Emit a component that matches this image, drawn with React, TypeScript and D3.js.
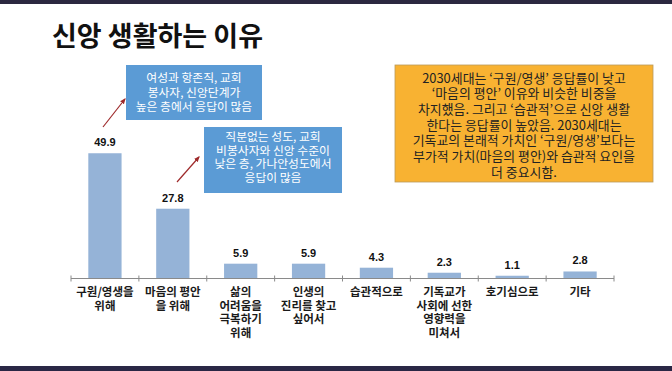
import React from 'react';
import * as d3 from 'd3';

// 신앙 생활하는 이유 (%)
const categories = [
  ['구원/영생을', '위해'],
  ['마음의 평안', '을 위해'],
  ['삶의', '어려움을', '극복하기', '위해'],
  ['인생의', '진리를 찾고', '싶어서'],
  ['습관적으로'],
  ['기독교가', '사회에 선한', '영향력을', '미쳐서'],
  ['호기심으로'],
  ['기타'],
];
const values = [49.9, 27.8, 5.9, 5.9, 4.3, 2.3, 1.1, 2.8];

const title = '신앙 생활하는 이유';
const note1 = ['여성과 항존직, 교회', '봉사자, 신앙단계가', '높은 층에서 응답이 많음'];
const note2 = ['직분없는 성도, 교회', '비봉사자와 신앙 수준이', '낮은 층, 가나안성도에서', '응답이 많음'];
const note3 = [
  '2030세대는 ‘구원/영생’ 응답률이 낮고',
  '‘마음의 평안’ 이유와 비슷한 비중을',
  '차지했음. 그리고 ‘습관적’으로 신앙 생활',
  '한다는 응답률이 높았음. 2030세대는',
  '기독교의 본래적 가치인 ‘구원/영생’보다는',
  '부가적 가치(마음의 평안)와 습관적 요인을',
  '더 중요시함.',
];

const W = 672;
const H = 371;
const kr = '"Noto Sans CJK KR", "Noto Sans", sans-serif';
const barColor = '#95b3d7';
const arrowColor = '#9e2a2b';

export default function App() {
  const x = d3.scaleBand<number>()
    .domain(d3.range(categories.length))
    .range([71, 614])
    .padding(0);
  const y = d3.scaleLinear().domain([0, 50]).range([278.5, 153]);
  const barW = x.bandwidth() * 0.49;
  const bounds = d3.range(categories.length + 1).map(i => 71 + i * x.step());

  return (
    <svg width={W} height={H} style={{ position: 'absolute', left: 0, top: 0, background: '#fff' }}>
      <defs>
        <marker id="ah" viewBox="0 0 10 10" refX="8" refY="5" markerWidth="5" markerHeight="5" orient="auto">
          <path d="M0,1 L10,5 L0,9 z" fill={arrowColor} />
        </marker>
      </defs>
      <rect x={0} y={0} width={W} height={4} fill="#2b2840" />
      <rect x={0} y={366} width={W} height={5} fill="#2a2745" />

      <text x={52} y={46} fontFamily={kr} fontWeight={700} fontSize={27} fill="#111">{title}</text>

      {/* bars */}
      {values.map((v, i) => (
        <g key={i}>
          <rect x={x(i)! + (x.bandwidth() - barW) / 2} y={y(v)} width={barW} height={y(0) - y(v)} fill={barColor} />
          <text x={x(i)! + x.bandwidth() / 2} y={y(v) - 7} textAnchor="middle"
            fontFamily="'Liberation Sans', Arial, sans-serif" fontWeight={700} fontSize={11} fill="#111">
            {v.toFixed(1)}
          </text>
        </g>
      ))}

      {/* axis */}
      <line x1={bounds[0]} x2={bounds[bounds.length - 1]} y1={y(0)} y2={y(0)} stroke="#8a8a8a" strokeWidth={1.2} />
      {bounds.map((b, i) => (
        <line key={i} x1={b} x2={b} y1={y(0) - 3} y2={y(0) + 3} stroke="#8a8a8a" strokeWidth={1} />
      ))}
      {categories.map((lines, i) =>
        lines.map((l, j) => (
          <text key={i + '-' + j} x={x(i)! + x.bandwidth() / 2} y={296 + j * 13.5} textAnchor="middle"
            fontFamily={kr} fontWeight={700} fontSize={11.5} fill="#1a1a1a">{l}</text>
        ))
      )}

      {/* notes */}
      <line x1={103} y1={127} x2={125} y2={99} stroke={arrowColor} strokeWidth={1.2} markerEnd="url(#ah)" />
      <line x1={177} y1={182} x2={199} y2={157} stroke={arrowColor} strokeWidth={1.2} markerEnd="url(#ah)" />

      <rect x={126} y={65} width={136} height={55} fill="#5b9bd5" />
      {note1.map((l, j) => (
        <text key={j} x={194} y={82 + j * 14.5} textAnchor="middle" fontFamily={kr} fontSize={11.8} fill="#fff">{l}</text>
      ))}

      <rect x={204} y={127} width={138} height={66} fill="#5b9bd5" />
      {note2.map((l, j) => (
        <text key={j} x={273} y={141 + j * 13.7} textAnchor="middle" fontFamily={kr} fontSize={11.8} fill="#fff">{l}</text>
      ))}

      <rect x={395} y={65} width={258} height={117} fill="#f8b232" stroke="#b99a5a" strokeWidth={0.8} />
      {note3.map((l, j) => (
        <text key={j} x={524} y={82.5 + j * 15.7} textAnchor="middle" fontFamily={kr} fontSize={12.9} fill="#222">{l}</text>
      ))}
    </svg>
  );
}
